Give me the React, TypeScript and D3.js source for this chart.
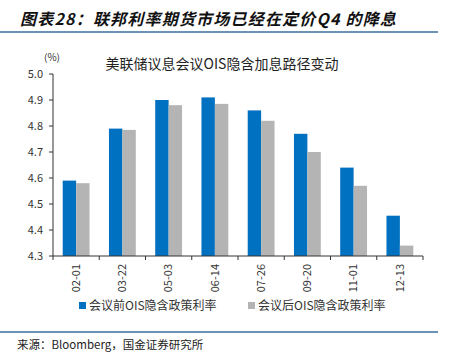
import React from "react";
import * as d3 from "d3";

const categories = ["02-01", "03-22", "05-03", "06-14", "07-26", "09-20", "11-01", "12-13"];
const beforeValues = [4.59, 4.79, 4.9, 4.91, 4.86, 4.77, 4.64, 4.455];
const afterValues = [4.58, 4.785, 4.88, 4.885, 4.82, 4.7, 4.57, 4.34];
const seriesNames = ["会议前OIS隐含政策利率", "会议后OIS隐含政策利率"];
const yTicks = [4.3, 4.4, 4.5, 4.6, 4.7, 4.8, 4.9, 5.0];

const W = 451;
const H = 361;
const left = 53;
const right = 423;
const top = 74;
const bottom = 256;
const BLUE = "#0070C0";
const GRAY = "#B4B4B4";
const FONT = "'Noto Sans CJK SC', 'Noto Sans', sans-serif";

export default function App() {
  const x = d3.scaleBand<string>().domain(categories).range([left, right]).paddingInner(0.42).paddingOuter(0.21);
  const inner = d3.scaleBand<number>().domain([0, 1]).range([0, x.bandwidth()]);
  const y = d3.scaleLinear().domain([4.3, 5.0]).range([bottom, top]);
  const step = (right - left) / categories.length;
  const boundaries = d3.range(categories.length + 1).map((i) => left + i * step);
  const series = [beforeValues, afterValues];
  const colors = [BLUE, GRAY];

  return (
    <svg width={W} height={H} style={{ position: "absolute", left: 0, top: 0, background: "#fff" }}>
      <text x={20} y={25} fontFamily={FONT} fontSize={16} fontWeight="bold" fontStyle="italic" letterSpacing={1.2} fill="#111">
        图表28：联邦利率期货市场已经在定价Q4 的降息
      </text>
      <line x1={0} x2={438} y1={32} y2={32} stroke="#3B6E9E" strokeWidth={1.5} />

      <text x={222} y={69} textAnchor="middle" fontFamily={FONT} fontSize={14} fill="#222">
        美联储议息会议OIS隐含加息路径变动
      </text>
      <text x={52} y={61} textAnchor="middle" fontFamily={FONT} fontSize={10} fill="#333">
        (%)
      </text>

      {series.map((vals, si) =>
        vals.map((v, i) => (
          <rect
            key={`${si}-${i}`}
            x={(x(categories[i]) as number) + (inner(si) as number)}
            y={y(v)}
            width={inner.bandwidth()}
            height={bottom - y(v)}
            fill={colors[si]}
          />
        ))
      )}

      {/* Y axis */}
      <line x1={left} x2={left} y1={top} y2={bottom} stroke="#333" strokeWidth={1} />
      {yTicks.map((t) => (
        <g key={t}>
          <line x1={left - 4} x2={left} y1={y(t)} y2={y(t)} stroke="#333" />
          <text x={43} y={y(t)} dy="0.35em" textAnchor="end" fontFamily={FONT} fontSize={11} fill="#333">
            {t.toFixed(1)}
          </text>
        </g>
      ))}

      {/* X axis */}
      <line x1={left} x2={right} y1={bottom} y2={bottom} stroke="#333" strokeWidth={1} />
      {boundaries.map((b, i) => (
        <line key={i} x1={b} x2={b} y1={bottom} y2={bottom + 4} stroke="#333" />
      ))}
      {categories.map((c) => (
        <text
          key={c}
          transform={`translate(${(x(c) as number) + x.bandwidth() / 2},${bottom + 8}) rotate(-90)`}
          textAnchor="end"
          dy="0.35em"
          fontFamily={FONT}
          fontSize={11}
          fill="#333"
        >
          {c}
        </text>
      ))}

      {/* Legend */}
      {seriesNames.map((n, i) => {
        const lx = i === 0 ? 79 : 248;
        return (
          <g key={n}>
            <rect x={lx} y={302} width={7} height={7} fill={colors[i]} />
            <text x={lx + 10} y={305.5} dy="0.35em" fontFamily={FONT} fontSize={12} fill="#333">
              {n}
            </text>
          </g>
        );
      })}

      <line x1={0} x2={438} y1={332} y2={332} stroke="#3B6E9E" strokeWidth={1.5} />
      <text x={17} y={349} fontFamily={FONT} fontSize={11.5} fill="#222">
        来源：Bloomberg，国金证券研究所
      </text>
    </svg>
  );
}
